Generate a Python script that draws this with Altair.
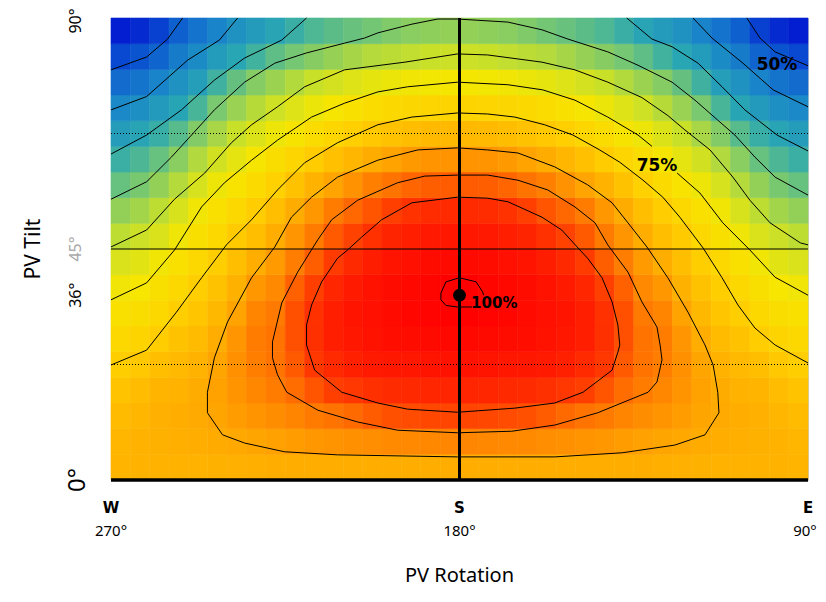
import altair as alt
import pandas as pd

# ---------------- data ----------------
# rotation band edges (W=270 ... S=180 ... E=90), 5 deg wide, and tilt band edges, 5 deg high
rot_edges = [270, 265, 260, 255, 250, 245, 240, 235, 230, 225, 220, 215, 210, 205, 200, 195, 190, 185, 180,
             175, 170, 165, 160, 155, 150, 145, 140, 135, 130, 125, 120, 115, 110, 105, 100, 95, 90]
tilt_edges = [0, 5, 10, 15, 20, 25, 30, 35, 40, 45, 50, 55, 60, 65, 70, 75, 80, 85, 90]

# relative yield (%) per cell; rows bottom (tilt 0-5) to top (85-90), columns W -> E
irr_rows = [
    [83.5, 83.6, 83.6, 83.7, 83.7, 83.9, 84.0, 84.1, 84.2, 84.2, 84.2, 84.2, 84.2, 84.2, 84.3, 84.3, 84.3, 84.3,
     84.3, 84.3, 84.3, 84.3, 84.2, 84.2, 84.2, 84.2, 84.2, 84.2, 84.1, 84.0, 83.9, 83.7, 83.7, 83.6, 83.6, 83.5],
    [83.2, 83.7, 83.9, 84.1, 84.3, 84.6, 85.0, 85.3, 85.7, 86.1, 86.6, 86.9, 87.2, 87.5, 87.9, 88.0, 88.1, 88.3,
     88.3, 88.1, 88.0, 87.9, 87.5, 87.2, 86.9, 86.6, 86.1, 85.7, 85.3, 85.0, 84.6, 84.3, 84.1, 83.9, 83.7, 83.2],
    [82.6, 83.3, 84.0, 84.3, 84.7, 85.3, 86.2, 86.9, 87.6, 88.4, 89.3, 90.0, 90.9, 92.1, 93.2, 93.6, 94.0, 94.2,
     94.2, 94.0, 93.6, 93.2, 92.1, 90.9, 90.0, 89.3, 88.4, 87.6, 86.9, 86.2, 85.3, 84.7, 84.3, 84.0, 83.3, 82.6],
    [81.6, 82.5, 83.4, 83.8, 84.5, 85.6, 87.0, 88.2, 89.2, 90.6, 92.8, 94.7, 95.4, 96.0, 96.4, 96.6, 96.8, 96.9,
     96.9, 96.8, 96.6, 96.4, 96.0, 95.4, 94.7, 92.8, 90.6, 89.2, 88.2, 87.0, 85.6, 84.5, 83.8, 83.4, 82.5, 81.6],
    [80.2, 81.0, 82.2, 82.9, 83.8, 85.3, 87.3, 89.0, 90.0, 92.3, 95.3, 96.5, 97.3, 97.8, 98.0, 98.1, 98.3, 98.4,
     98.4, 98.3, 98.1, 98.0, 97.8, 97.3, 96.5, 95.3, 92.3, 90.0, 89.0, 87.3, 85.3, 83.8, 82.9, 82.2, 81.0, 80.2],
    [78.3, 79.0, 80.4, 81.7, 82.6, 84.4, 86.8, 89.2, 90.1, 93.3, 96.0, 97.4, 98.1, 98.5, 98.8, 99.0, 99.2, 99.3,
     99.3, 99.2, 99.0, 98.8, 98.5, 98.1, 97.4, 96.0, 93.3, 90.1, 89.2, 86.8, 84.4, 82.6, 81.7, 80.4, 79.0, 78.3],
    [76.4, 77.0, 78.4, 80.3, 81.3, 83.0, 85.5, 88.4, 89.4, 93.2, 95.9, 97.5, 98.3, 98.7, 99.1, 99.4, 99.7, 99.8,
     99.8, 99.7, 99.4, 99.1, 98.7, 98.3, 97.5, 95.9, 93.2, 89.4, 88.4, 85.5, 83.0, 81.3, 80.3, 78.4, 77.0, 76.4],
    [74.3, 75.1, 76.5, 78.4, 80.2, 81.7, 83.9, 86.6, 88.0, 91.8, 94.7, 96.8, 97.8, 98.5, 99.0, 99.3, 99.6, 100.0,
     100.0, 99.6, 99.3, 99.0, 98.5, 97.8, 96.8, 94.7, 91.8, 88.0, 86.6, 83.9, 81.7, 80.2, 78.4, 76.5, 75.1, 74.3],
    [71.8, 72.7, 74.4, 76.4, 78.4, 80.3, 82.2, 84.3, 86.3, 89.1, 92.0, 95.1, 96.6, 97.6, 98.3, 98.7, 99.0, 99.2,
     99.2, 99.0, 98.7, 98.3, 97.6, 96.6, 95.1, 92.0, 89.1, 86.3, 84.3, 82.2, 80.3, 78.4, 76.4, 74.4, 72.7, 71.8],
    [69.4, 70.3, 71.9, 74.2, 76.5, 78.4, 80.6, 82.3, 84.3, 86.8, 89.3, 92.3, 94.5, 95.9, 97.0, 97.5, 97.9, 98.1,
     98.1, 97.9, 97.5, 97.0, 95.9, 94.5, 92.3, 89.3, 86.8, 84.3, 82.3, 80.6, 78.4, 76.5, 74.2, 71.9, 70.3, 69.4],
    [66.7, 67.7, 69.4, 71.6, 74.4, 76.4, 78.4, 80.4, 82.1, 84.5, 86.6, 89.2, 91.1, 92.9, 94.7, 95.8, 96.3, 96.5,
     96.5, 96.3, 95.8, 94.7, 92.9, 91.1, 89.2, 86.6, 84.5, 82.1, 80.4, 78.4, 76.4, 74.4, 71.6, 69.4, 67.7, 66.7],
    [63.9, 65.0, 66.7, 68.8, 71.5, 74.1, 75.9, 77.8, 79.8, 81.7, 83.6, 85.4, 87.1, 88.8, 90.1, 91.3, 92.0, 92.2,
     92.2, 92.0, 91.3, 90.1, 88.8, 87.1, 85.4, 83.6, 81.7, 79.8, 77.8, 75.9, 74.1, 71.5, 68.8, 66.7, 65.0, 63.9],
    [61.1, 62.2, 63.9, 66.1, 68.6, 71.0, 73.1, 75.2, 77.0, 78.8, 80.5, 82.0, 83.3, 84.5, 85.5, 86.4, 86.9, 87.0,
     87.0, 86.9, 86.4, 85.5, 84.5, 83.3, 82.0, 80.5, 78.8, 77.0, 75.2, 73.1, 71.0, 68.6, 66.1, 63.9, 62.2, 61.1],
    [58.2, 59.4, 60.9, 62.9, 65.7, 68.0, 70.1, 72.1, 74.0, 75.7, 77.3, 78.7, 80.1, 81.0, 81.7, 82.4, 82.7, 82.9,
     82.9, 82.7, 82.4, 81.7, 81.0, 80.1, 78.7, 77.3, 75.7, 74.0, 72.1, 70.1, 68.0, 65.7, 62.9, 60.9, 59.4, 58.2],
    [55.2, 56.1, 57.8, 59.5, 62.0, 65.1, 67.1, 68.9, 70.6, 72.3, 73.9, 75.2, 76.3, 77.3, 77.9, 78.6, 78.9, 79.1,
     79.1, 78.9, 78.6, 77.9, 77.3, 76.3, 75.2, 73.9, 72.3, 70.6, 68.9, 67.1, 65.1, 62.0, 59.5, 57.8, 56.1, 55.2],
    [52.0, 52.9, 54.6, 56.6, 58.5, 61.4, 63.8, 65.8, 67.2, 68.7, 70.1, 71.2, 72.3, 73.2, 73.8, 74.4, 74.6, 74.9,
     74.9, 74.6, 74.4, 73.8, 73.2, 72.3, 71.2, 70.1, 68.7, 67.2, 65.8, 63.8, 61.4, 58.5, 56.6, 54.6, 52.9, 52.0],
    [48.9, 49.7, 51.3, 53.7, 55.4, 57.9, 59.7, 61.5, 63.4, 64.8, 65.9, 66.9, 67.9, 68.8, 69.2, 69.6, 70.1, 70.3,
     70.3, 70.1, 69.6, 69.2, 68.8, 67.9, 66.9, 65.9, 64.8, 63.4, 61.5, 59.7, 57.9, 55.4, 53.7, 51.3, 49.7, 48.9],
    [46.0, 46.9, 48.4, 50.8, 52.8, 54.6, 56.6, 58.0, 59.3, 61.0, 62.3, 63.2, 64.0, 64.7, 65.5, 66.1, 66.4, 66.7,
     66.7, 66.4, 66.1, 65.5, 64.7, 64.0, 63.2, 62.3, 61.0, 59.3, 58.0, 56.6, 54.6, 52.8, 50.8, 48.4, 46.9, 46.0],
]

# contour lines (rotation, tilt)
c50_w_rot = [251.5, 255.4, 260.8, 270.0]
c50_w_tilt = [90.0, 85.9, 82.4, 79.9]
c50_e_rot = [105.8, 102.4, 98.5, 90.0]
c50_e_tilt = [90.0, 86.1, 83.4, 80.7]
c55_w_rot = [237.3, 242.0, 250.2, 260.8, 270.0]
c55_w_tilt = [90.0, 85.7, 81.8, 74.7, 72.1]
c55_e_rot = [119.7, 114.8, 106.8, 99.0, 90.0]
c55_e_tilt = [90.0, 86.1, 81.2, 76.0, 72.7]
c60_w_rot = [219.5, 225.9, 235.5, 243.3, 251.8, 260.8, 270.0]
c60_w_tilt = [90.0, 85.7, 82.2, 77.9, 72.1, 67.2, 63.5]
c60_e_rot = [136.8, 130.3, 125.1, 118.4, 112.2, 106.3, 98.0, 90.0]
c60_e_tilt = [90.0, 85.9, 84.4, 81.2, 76.6, 72.1, 67.2, 64.1]
c65_rot = [270.0, 260.8, 254.4, 249.2, 243.3, 235.5, 227.7, 219.5, 209.7, 204.5, 201.1, 192.3, 185.6,
           180.5, 167.5, 158.7, 152.0, 141.7, 133.9, 125.1, 119.2, 113.3, 108.9, 103.7, 98.5, 90.0]
c65_tilt = [54.7, 58.1, 62.9, 67.2, 72.1, 77.5, 81.2, 83.2, 85.1, 86.1, 87.1, 88.8, 89.8,
            89.8, 89.2, 87.7, 85.9, 83.4, 80.8, 77.5, 74.0, 70.1, 67.2, 62.9, 59.0, 55.5]
c70_rot = [270.0, 260.8, 253.6, 245.8, 238.9, 233.7, 227.0, 220.0, 209.7, 194.1, 180.5, 172.7,
           158.7, 150.2, 141.7, 132.9, 126.2, 121.8, 115.3, 109.4, 105.0, 99.8, 92.0, 90.0]
c70_tilt = [45.4, 48.7, 54.7, 59.8, 65.7, 69.2, 72.7, 76.6, 79.9, 81.4, 83.0, 82.8,
            81.4, 79.9, 77.5, 74.5, 71.0, 68.2, 64.3, 59.0, 54.5, 50.1, 46.2, 45.8]
c75_a_rot = [270.0, 260.8, 253.6, 246.6, 240.7, 233.7, 227.0, 218.2, 209.7, 201.1, 193.4, 180.5,
             167.5, 158.5, 150.2, 141.7, 133.9, 130.3]
c75_a_tilt = [35.1, 38.4, 44.8, 53.2, 57.9, 62.3, 66.2, 70.7, 73.4, 75.6, 76.6, 77.5,
              77.0, 76.0, 74.0, 70.7, 67.2, 65.0]
c75_b_rot = [123.8, 117.9, 112.0, 105.0, 98.5, 90.0]
c75_b_tilt = [59.8, 55.9, 50.1, 44.8, 39.5, 36.0]
c80_rot = [270.0, 260.8, 253.1, 246.6, 240.2, 233.7, 227.0, 220.0, 211.5, 201.1, 192.3, 180.5, 172.7, 165.7,
           158.0, 150.7, 143.8, 138.6, 132.6, 127.5, 123.1, 117.1, 112.2, 108.1, 103.7, 98.5, 90.0]
c80_tilt = [22.4, 25.3, 32.7, 39.4, 45.8, 50.7, 56.5, 61.8, 65.7, 69.2, 70.7, 71.5, 71.3, 70.7,
            69.2, 67.2, 64.3, 61.9, 58.4, 55.1, 51.2, 45.2, 39.4, 34.1, 29.6, 26.3, 22.8]
c85_rot = [180.5, 190.8, 201.1, 211.5, 218.2, 223.4, 227.7, 233.7, 239.9, 243.3, 245.1, 245.1, 241.2, 235.5,
           225.2, 211.5, 180.5, 155.4, 138.0, 124.4, 116.6, 113.0, 113.3, 114.5, 116.6, 121.0, 126.2,
           131.6, 136.5, 140.6, 146.9, 155.4, 164.9, 172.7, 180.5]
c85_tilt = [64.7, 64.3, 62.3, 59.0, 55.1, 51.2, 45.4, 39.4, 30.8, 23.8, 17.1, 13.1, 8.8, 7.2,
            5.5, 4.9, 4.5, 4.5, 5.3, 6.8, 8.8, 13.1, 17.1, 22.4, 26.3, 32.7, 39.4,
            45.4, 50.1, 54.0, 57.5, 61.0, 63.7, 64.3, 64.7]
c90_rot = [180.5, 189.0, 196.0, 206.3, 213.0, 216.6, 221.8, 225.9, 228.3, 228.3, 227.0, 224.6, 216.6, 206.3,
           196.0, 180.5, 166.5, 155.4, 144.3, 131.3, 129.0, 127.7, 128.2, 129.0, 132.9, 136.5, 141.7,
           145.0, 150.2, 157.2, 164.9, 172.7, 180.5]
c90_tilt = [59.4, 59.2, 57.9, 54.5, 50.7, 46.8, 40.5, 34.5, 26.9, 23.8, 20.5, 17.1, 13.6, 11.3,
            9.7, 9.2, 9.5, 10.7, 13.1, 17.1, 19.1, 23.4, 26.3, 29.8, 34.7, 40.5, 45.8,
            50.1, 53.2, 56.5, 58.4, 59.4, 59.4]
c95_rot = [180.5, 192.3, 200.1, 205.3, 208.9, 211.5, 215.6, 218.2, 219.5, 219.5, 217.4, 210.4, 201.1, 193.4,
           180.5, 165.7, 155.4, 148.1, 140.6, 139.1, 138.6, 139.1, 140.6, 143.2, 146.9, 148.9, 153.6,
           158.7, 167.5, 172.7, 180.5]
c95_tilt = [55.1, 54.0, 50.7, 47.3, 44.8, 43.2, 38.6, 34.1, 30.2, 26.3, 21.4, 17.1, 15.0, 13.8,
            13.2, 14.0, 15.0, 17.1, 21.4, 24.9, 26.3, 30.2, 34.7, 39.4, 43.2, 44.8, 48.7,
            51.2, 54.2, 54.9, 55.1]
c100_rot = [176.8, 180.5, 183.5, 184.8, 184.8, 183.5, 180.0, 175.7, 174.0, 173.8]
c100_tilt = [33.7, 33.7, 34.0, 35.1, 36.4, 38.6, 39.4, 38.6, 36.6, 36.0]

# optimum marker and value labels
opt_rot, opt_tilt = [180], [36]
lab_text = ["100%", "75%", "50%"]
lab_rot = [177.0, 129.0, 98.0]
lab_tilt = [34.4, 61.2, 80.9]

# reference lines
ref_solid_tilt = [45]
ref_dot_tilt = [22.5, 67.5]

# axis texts
ytick_vals = [90, 45, 36, 0]
ytick_text = ["90°", "45°", "36°", "0°"]
ytick_color = ["#000000", "#aaaaaa", "#000000", "#000000"]
xdir_vals = [270, 180, 90]
xdir_text = ["W", "S", "E"]
xdeg_text = ["270°", "180°", "90°"]

# colour stops
c_dom = [45, 50, 55, 60, 65, 70, 75, 80, 85, 90, 95, 100]
c_rng = ["#0010d0", "#0c58d0", "#1a88c8", "#2aa8b2", "#78c870", "#c8e02a",
         "#f6e600", "#ffd000", "#ffa800", "#ff7400", "#ff3c00", "#ff0000"]

# ---------------- tables ----------------
cells = []
for i, row in enumerate(irr_rows):
    for j, v in enumerate(row):
        cells.append({"r0": rot_edges[j], "r1": rot_edges[j + 1],
                      "t0": tilt_edges[i], "t1": tilt_edges[i + 1], "v": v})
cells = pd.DataFrame(cells)

segs = [
    ("c50w", c50_w_rot, c50_w_tilt), ("c50e", c50_e_rot, c50_e_tilt),
    ("c55w", c55_w_rot, c55_w_tilt), ("c55e", c55_e_rot, c55_e_tilt),
    ("c60w", c60_w_rot, c60_w_tilt), ("c60e", c60_e_rot, c60_e_tilt),
    ("c65", c65_rot, c65_tilt), ("c70", c70_rot, c70_tilt),
    ("c75a", c75_a_rot, c75_a_tilt), ("c75b", c75_b_rot, c75_b_tilt),
    ("c80", c80_rot, c80_tilt), ("c85", c85_rot, c85_tilt),
    ("c90", c90_rot, c90_tilt), ("c95", c95_rot, c95_tilt),
    ("c100", c100_rot, c100_tilt),
]
lines = []
for name, rr, tt in segs:
    for k, (r, t) in enumerate(zip(rr, tt)):
        lines.append({"seg": name, "k": k, "rot": r, "tilt": t})
lines = pd.DataFrame(lines)

W, H = 697, 462
xs = alt.Scale(domain=[90, 270], reverse=True, nice=False, zero=False)
ys = alt.Scale(domain=[0, 90], nice=False, zero=False)
cs = alt.Scale(domain=c_dom, range=c_rng, clamp=True, interpolate="rgb")

heat = alt.Chart(cells).mark_rect(strokeWidth=0.6).encode(
    x=alt.X("r0:Q", scale=xs, axis=None), x2="r1:Q",
    y=alt.Y("t0:Q", scale=ys, axis=None), y2="t1:Q",
    color=alt.Color("v:Q", scale=cs, legend=None),
    stroke=alt.Stroke("v:Q", scale=cs, legend=None),
)

solid = alt.Chart(pd.DataFrame({"tilt": ref_solid_tilt})).mark_rule(
    color="black", strokeWidth=1).encode(y=alt.Y("tilt:Q", scale=ys, axis=None))
dotted = alt.Chart(pd.DataFrame({"tilt": ref_dot_tilt})).mark_rule(
    color="black", strokeWidth=1, strokeDash=[1, 2]).encode(y=alt.Y("tilt:Q", scale=ys, axis=None))

contours = alt.Chart(lines).mark_line(color="black", strokeWidth=1).encode(
    x=alt.X("rot:Q", scale=xs, axis=None),
    y=alt.Y("tilt:Q", scale=ys, axis=None),
    detail="seg:N", order="k:Q",
)

south = alt.Chart(pd.DataFrame({"rot": [180]})).mark_rule(color="black", strokeWidth=3).encode(
    x=alt.X("rot:Q", scale=xs, axis=None))
base_line = alt.Chart(pd.DataFrame({"tilt": [0]})).mark_rule(color="black", strokeWidth=3.5).encode(
    y=alt.Y("tilt:Q", scale=ys, axis=None))

dot = alt.Chart(pd.DataFrame({"rot": opt_rot, "tilt": opt_tilt})).mark_circle(
    color="black", opacity=1, size=165).encode(
    x=alt.X("rot:Q", scale=xs, axis=None), y=alt.Y("tilt:Q", scale=ys, axis=None))

labdf = pd.DataFrame({"t": lab_text, "rot": lab_rot, "tilt": lab_tilt})
lab_left = alt.Chart(labdf.iloc[[0]]).mark_text(
    font="DejaVu Sans", fontWeight="bold", align="left", baseline="middle", fontSize=15).encode(
    x=alt.X("rot:Q", scale=xs, axis=None), y=alt.Y("tilt:Q", scale=ys, axis=None), text="t:N")
lab_center = alt.Chart(labdf.iloc[[1, 2]]).mark_text(
    font="DejaVu Sans", fontWeight="bold", align="center", baseline="middle", fontSize=17).encode(
    x=alt.X("rot:Q", scale=xs, axis=None), y=alt.Y("tilt:Q", scale=ys, axis=None), text="t:N")

ytdf = pd.DataFrame({"tilt": ytick_vals, "t": ytick_text, "c": ytick_color})
ytick_top = alt.Chart(ytdf.iloc[[0]]).mark_text(
    font="Noto Sans", angle=270, align="center", baseline="alphabetic", fontSize=16, dx=-3).encode(
    y=alt.Y("tilt:Q", scale=ys, axis=None), x=alt.value(-30), text="t:N",
    color=alt.Color("c:N", scale=None))
ytick_mid = alt.Chart(ytdf.iloc[[1, 2]]).mark_text(
    font="Noto Sans", angle=270, align="center", baseline="alphabetic", fontSize=16).encode(
    y=alt.Y("tilt:Q", scale=ys, axis=None), x=alt.value(-30), text="t:N",
    color=alt.Color("c:N", scale=None))
ytick_big = alt.Chart(ytdf.iloc[[3]]).mark_text(
    font="Noto Sans", angle=270, align="center", baseline="alphabetic", fontSize=24).encode(
    y=alt.Y("tilt:Q", scale=ys, axis=None), x=alt.value(-26), text="t:N",
    color=alt.Color("c:N", scale=None))

ytitle = alt.Chart(pd.DataFrame({"tilt": [45], "t": ["PV Tilt"]})).mark_text(
    font="Noto Sans", angle=270, align="center", baseline="middle", fontSize=21).encode(
    y=alt.Y("tilt:Q", scale=ys, axis=None), x=alt.value(-77), text="t:N")

xdf = pd.DataFrame({"rot": xdir_vals, "d": xdir_text, "g": xdeg_text})
xdir = alt.Chart(xdf).mark_text(
    font="DejaVu Sans", fontWeight="bold", align="center", baseline="middle", fontSize=15).encode(
    x=alt.X("rot:Q", scale=xs, axis=None), y=alt.value(H + 28), text="d:N")
xdeg = alt.Chart(xdf.iloc[[0, 1]]).mark_text(
    font="Noto Sans", align="center", baseline="middle", fontSize=15).encode(
    x=alt.X("rot:Q", scale=xs, axis=None), y=alt.value(H + 51), text="g:N")
xdeg_end = alt.Chart(xdf.iloc[[2]]).mark_text(
    font="Noto Sans", align="center", baseline="middle", fontSize=15, dx=-3).encode(
    x=alt.X("rot:Q", scale=xs, axis=None), y=alt.value(H + 51), text="g:N")
xtitle = alt.Chart(pd.DataFrame({"rot": [180], "t": ["PV Rotation"]})).mark_text(
    font="Noto Sans", align="center", baseline="middle", fontSize=20).encode(
    x=alt.X("rot:Q", scale=xs, axis=None), y=alt.value(H + 96), text="t:N")

chart = alt.layer(
    heat, solid, dotted, contours, south, base_line, dot, lab_left, lab_center,
    ytick_top, ytick_mid, ytick_big, ytitle, xdir, xdeg, xdeg_end, xtitle
).properties(
    width=W, height=H,
    padding={"left": 103, "top": 10, "right": 10, "bottom": 110},
    autosize=alt.AutoSizeParams(type="none"),
).configure_view(stroke="#cccccc", strokeWidth=1)

chart.save("out.html", embed_options={"renderer": "svg", "actions": False})
